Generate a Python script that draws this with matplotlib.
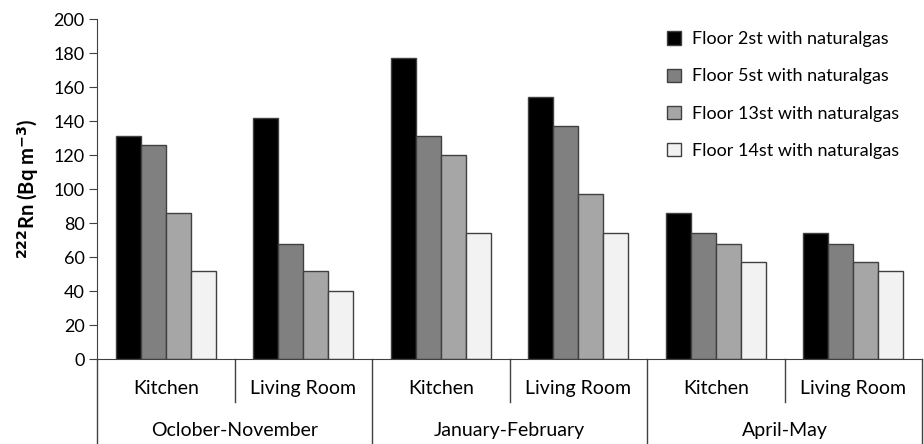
import matplotlib
matplotlib.use("Agg")
import matplotlib.pyplot as plt
from matplotlib.lines import Line2D
import numpy as np

plt.rcParams['font.family'] = ['Lato', 'DejaVu Sans']

rooms = ["Kitchen", "Living Room", "Kitchen", "Living Room", "Kitchen", "Living Room"]
seasons = ["Oclober-November", "January-February", "April-May"]
series_names = ["Floor 2st with naturalgas", "Floor 5st with naturalgas",
                "Floor 13st with naturalgas", "Floor 14st with naturalgas"]
floor2 = [131, 142, 177, 154, 86, 74]
floor5 = [126, 68, 131, 137, 74, 68]
floor13 = [86, 52, 120, 97, 68, 57]
floor14 = [52, 40, 74, 74, 57, 52]
series = [floor2, floor5, floor13, floor14]
colors = ["#000000", "#808080", "#a6a6a6", "#f2f2f2"]
edge = "#404040"

fig = plt.figure(figsize=(9.24, 4.44), dpi=100)
ax = fig.add_axes([0.105, 0.191, 0.893, 0.766])

x = np.arange(len(rooms)) + 0.5
w = 0.182
for i, (vals, c, name) in enumerate(zip(series, colors, series_names)):
    ax.bar(x + (i - 1.5) * w, vals, w, color=c, edgecolor=edge, linewidth=1.0, label=name)

ax.set_xlim(0, 6)
ax.set_ylim(0, 200)
ax.set_yticks(range(0, 201, 20))
ax.set_xticks([])
for s in ["top", "right"]:
    ax.spines[s].set_visible(False)
ax.spines["left"].set_color(edge)
ax.spines["bottom"].set_color(edge)
ax.tick_params(axis="y", direction="out", length=6, color=edge, labelsize=13, pad=3)

ax.set_ylabel(r"$^{\mathbf{222}}$Rn (Bq m$^{\mathbf{-3}}$)", fontsize=14.5, fontweight="bold", labelpad=9)

tr = ax.get_xaxis_transform()
# room labels and separators
for i, r in enumerate(rooms):
    ax.text(x[i], -0.085, r, transform=tr, ha="center", va="center", fontsize=14)
for i in range(1, 6, 2):
    ax.add_line(Line2D([i, i], [0, -0.125], transform=tr, color=edge, lw=1, clip_on=False))
for j, s in enumerate(seasons):
    ax.text(2 * j + 1, -0.21, s, transform=tr, ha="center", va="center", fontsize=14)
for k in range(0, 7, 2):
    ax.add_line(Line2D([k, k], [0, -0.26], transform=tr, color=edge, lw=1, clip_on=False))

leg = ax.legend(loc="upper left", bbox_to_anchor=(0.691, 0.964), frameon=False, fontsize=13,
                handlelength=0.75, handleheight=0.75, labelspacing=1.17, handletextpad=0.6,
                borderpad=0, borderaxespad=0)

fig.savefig("out.png", dpi=100)
